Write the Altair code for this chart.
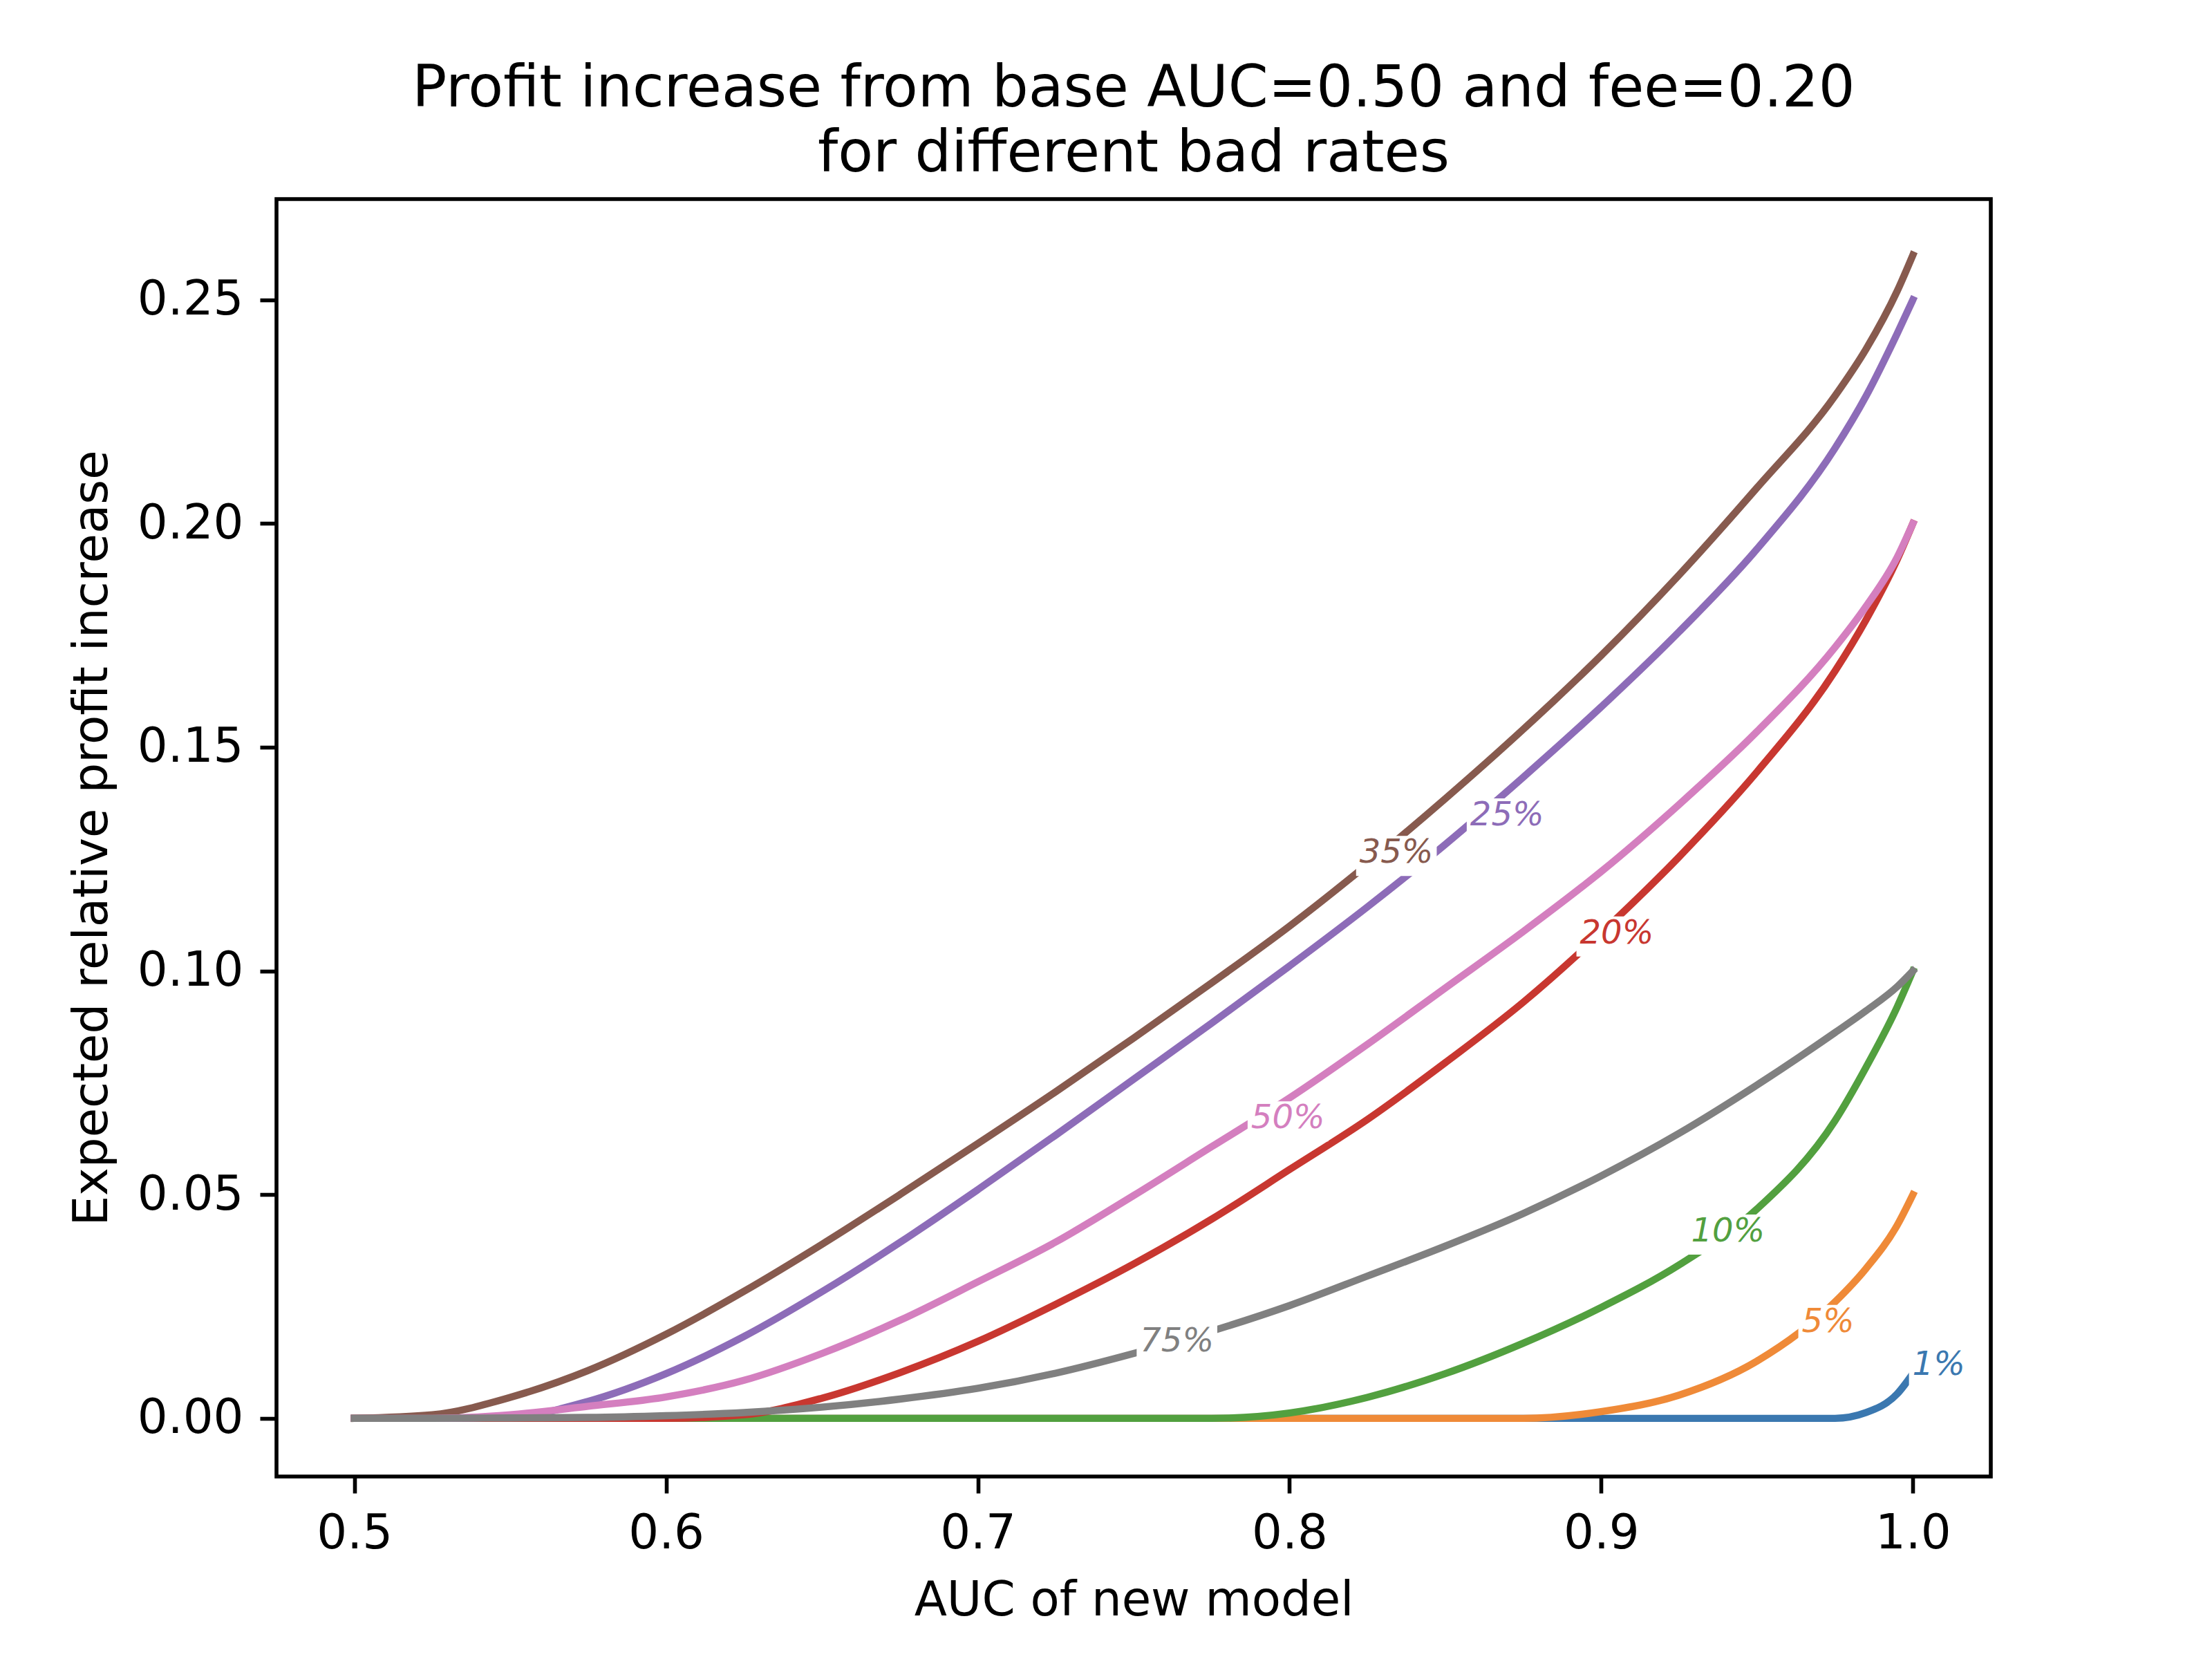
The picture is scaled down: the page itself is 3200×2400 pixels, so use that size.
import altair as alt
import pandas as pd

# ---- data -------------------------------------------------------------------
AUC = [0.5, 0.525, 0.55, 0.575, 0.6, 0.625, 0.65, 0.675, 0.7, 0.725, 0.75, 0.775,
       0.8, 0.825, 0.85, 0.875, 0.9, 0.925, 0.95, 0.975, 0.985, 0.995, 1.0]

BAD_RATES = ["1%", "5%", "10%", "20%", "25%", "35%", "50%", "75%"]
COLORS = ["#3b78b0", "#ef8a38", "#52a03f", "#c83730",
          "#8d6cb8", "#875a4e", "#d47fbf", "#808080"]

BR_01 = [0, 0, 0, 0, 0, 0, 0, 0, 0, 0, 0, 0,
         0, 0, 0, 0, 0, 0, 0, 0, 0.0013, 0.0055, 0.01]
BR_05 = [0, 0, 0, 0, 0, 0, 0, 0, 0, 0, 0, 0,
         0, 0, 0, 0, 0.0015, 0.0052, 0.0128, 0.026, 0.0335, 0.0432, 0.05]
BR_10 = [0, 0, 0, 0, 0, 0, 0, 0, 0, 0, 0, 0,
         0.0012, 0.0047, 0.0100, 0.0168, 0.0248, 0.0343, 0.0468, 0.0665, 0.0785, 0.092, 0.10]
BR_20 = [0, 0, 0, 0, 0, 0.0008, 0.0045, 0.0102, 0.0172, 0.0255, 0.0345, 0.0445,
         0.0556, 0.0668, 0.0795, 0.093, 0.1085, 0.1255, 0.1445, 0.167, 0.1785, 0.192, 0.20]
BR_25 = [0, 0, 0.0003, 0.0038, 0.0100, 0.0183, 0.0283, 0.0393, 0.0511, 0.0633, 0.0758, 0.0883,
         0.1011, 0.1143, 0.1283, 0.1433, 0.1590, 0.1758, 0.1943, 0.2168, 0.2285, 0.2425, 0.25]
BR_35 = [0, 0.0008, 0.0047, 0.0107, 0.0188, 0.0284, 0.0389, 0.0500, 0.0614, 0.0730, 0.0850, 0.0973,
         0.1100, 0.1238, 0.1385, 0.1540, 0.1705, 0.1885, 0.2080, 0.2285, 0.2390, 0.2520, 0.26]
BR_50 = [0, 0, 0.0008, 0.0027, 0.0048, 0.0085, 0.0145, 0.0219, 0.0305, 0.0394, 0.0498, 0.0607,
         0.0716, 0.0836, 0.0962, 0.1088, 0.1222, 0.1372, 0.1535, 0.1723, 0.1815, 0.1925, 0.20]
BR_75 = [0, 0, 0.0001, 0.0002, 0.0006, 0.0013, 0.0025, 0.0043, 0.0067, 0.0101, 0.0145, 0.0195,
         0.0252, 0.0318, 0.0385, 0.0458, 0.0542, 0.0637, 0.0745, 0.0862, 0.0911, 0.0965, 0.10]

SERIES = [BR_01, BR_05, BR_10, BR_20, BR_25, BR_35, BR_50, BR_75]

# inline label positions (centre of each label)
LABEL_X = [1.0083, 0.9728, 0.9407, 0.905, 0.8698, 0.8343, 0.7995, 0.7639]
LABEL_Y = [0.0119, 0.0215, 0.0417, 0.1083, 0.1347, 0.1263, 0.067, 0.0172]

TITLE = ["Profit increase from base AUC=0.50 and fee=0.20", "for different bad rates"]
X_TITLE = "AUC of new model"
Y_TITLE = "Expected relative profit increase"
X_TICKS = [0.5, 0.6, 0.7, 0.8, 0.9, 1.0]
Y_TICKS = [0.0, 0.05, 0.10, 0.15, 0.20, 0.25]

# ---- styling ------------------------------------------------------------------
FONT = "DejaVu Sans"
LABEL_FS = 48
LW = 10.4

x_enc = alt.X("auc:Q",
              scale=alt.Scale(domain=[0.475, 1.025], nice=False, zero=False),
              axis=alt.Axis(values=X_TICKS, format=".1f", title=X_TITLE))
y_enc = alt.Y("value:Q",
              scale=alt.Scale(domain=[-0.013, 0.2725], nice=False, zero=False),
              axis=alt.Axis(values=Y_TICKS, format=".2f", title=Y_TITLE, titlePadding=32))

layers = []
for name, color, vals in zip(BAD_RATES, COLORS, SERIES):
    df = pd.DataFrame({"auc": AUC, "value": vals, "rate": name})
    layers.append(
        alt.Chart(df).mark_line(color=color, strokeWidth=LW, interpolate="monotone",
                                strokeCap="square", strokeJoin="round")
        .encode(x=x_enc, y=y_enc)
    )


def adv(s):
    w = 0.0
    for ch in s:
        w += 0.95 if ch == "%" else 0.636
    return w * LABEL_FS


box_rows = []
for lab, col, lx, ly in zip(BAD_RATES, COLORS, LABEL_X, LABEL_Y):
    w = adv(lab) + 10
    h = 58
    r = h / w
    box_rows.append({"auc": lx, "value": ly, "label": lab, "color": col,
                     "shape": f"M-1,-{r:.4f}L1,-{r:.4f}L1,{r:.4f}L-1,{r:.4f}Z",
                     "bsize": w * w})
lab_df = pd.DataFrame(box_rows)

boxes = alt.Chart(lab_df).mark_point(filled=True, color="white", opacity=1,
                                     strokeWidth=0, yOffset=4).encode(
    x=x_enc, y=y_enc,
    shape=alt.Shape("shape:N", scale=None),
    size=alt.Size("bsize:Q", scale=None),
)

texts = alt.Chart(lab_df).mark_text(font=FONT, fontSize=LABEL_FS, fontStyle="italic",
                                    align="center", baseline="middle").encode(
    x=x_enc, y=y_enc,
    text="label:N",
    color=alt.Color("color:N", scale=None),
)

chart = alt.layer(*layers, boxes, texts).properties(
    width=2480, height=1848,
    background="white",
    title=alt.Title(TITLE, font=FONT, fontSize=83, fontWeight="normal", color="black",
                    anchor="middle", baseline="bottom", offset=-60, lineHeight=94),
    autosize=alt.AutoSizeParams(type="none"),
    padding={"left": 392, "top": 280, "right": 312, "bottom": 256},
).configure_view(
    stroke="black", strokeWidth=5.6
).configure_axis(
    domain=False, grid=False,
    ticks=True, tickColor="black", tickWidth=5.6, tickSize=24,
    labelFont=FONT, labelFontSize=69, labelColor="black", labelPadding=24,
    titleFont=FONT, titleFontSize=69, titleColor="black", titleFontWeight="normal",
    titlePadding=28,
)

chart.save("out.html", embed_options={"renderer": "svg", "actions": False})
